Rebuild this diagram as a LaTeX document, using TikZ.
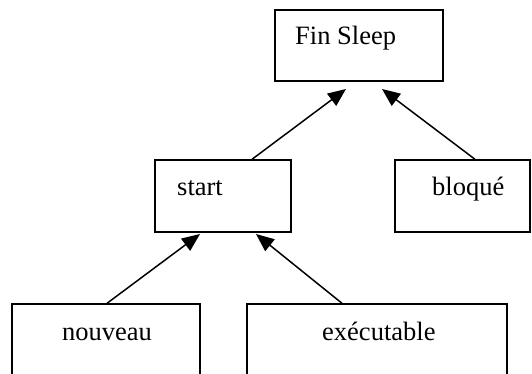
\documentclass[tikz,border=0pt]{standalone}
\usepackage{fontspec}
\setmainfont{Liberation Serif}
\usetikzlibrary{arrows.meta}
\begin{document}
\begin{tikzpicture}[x=1pt,y=-1pt,
  box/.style={draw=black, line width=1.4pt, rectangle, inner sep=0pt},
  lbl/.style={inner sep=0pt, anchor=base west, font=\fontsize{26.5}{30}\selectfont},
  arr/.style={draw=black, line width=1.5pt, -{Triangle[length=18pt,width=15pt]}}]
  \useasboundingbox (0,0) rectangle (532,374);
  \clip (0,0) rectangle (532,374);
  % boxes
  \node[box, minimum width=168pt, minimum height=71pt] (fin) at (359,45.5) {};
  \node[box, minimum width=136pt, minimum height=72pt] (start) at (223,196) {};
  \node[box, minimum width=135pt, minimum height=72pt] (bloque) at (462.5,196) {};
  \node[box, minimum width=188pt, minimum height=100pt] (nouveau) at (106,354) {};
  \node[box, minimum width=260pt, minimum height=100pt] (exec) at (377,354) {};
  % labels
  \node[lbl] (fintxt) at (295,45) {Fin Sleep};
  \node[lbl] (starttxt) at (177,195) {start};
  \node[lbl] (bloquetxt) at (432,195) {bloqué};
  \node[lbl] (nouveautxt) at (62,340) {nouveau};
  \node[lbl] (exectxt) at (322,340) {exécutable};
  % where the arrow tips end
  \coordinate (finL) at (346,89);
  \coordinate (finR) at (382,89);
  \coordinate (startL) at (200,234);
  \coordinate (startR) at (256,234);
  % connectors
  \draw[arr] ([xshift=29pt]start.north) -- (finL);
  \draw[arr] ([xshift=12.5pt]bloque.north) -- (finR);
  \draw[arr] ([xshift=1pt]nouveau.north) -- (startL);
  \draw[arr] ([xshift=-35pt]exec.north) -- (startR);
\end{tikzpicture}
\end{document}
